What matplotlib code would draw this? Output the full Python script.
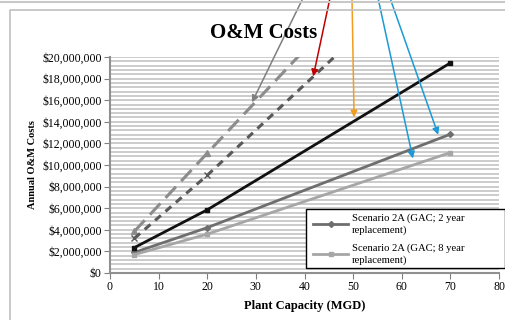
import matplotlib
matplotlib.use("Agg")
import matplotlib.pyplot as plt
from matplotlib.lines import Line2D
from matplotlib.patches import Rectangle
from matplotlib.ticker import MultipleLocator, FuncFormatter

capacity = [5, 20, 70]
scen_black = [2.35e6, 5.85e6, 19.45e6]
scen_2yr = [1.9e6, 4.2e6, 12.85e6]
scen_8yr = [1.7e6, 3.6e6, 11.15e6]
scen_short_dash = [3.2e6, 9.05e6, 30.0e6]
scen_long_dash = [3.85e6, 11.1e6, 35.0e6]

legend_labels = ["Scenario 2A (GAC; 2 year\nreplacement)",
                 "Scenario 2A (GAC; 8 year\nreplacement)"]

arrow_targets_x = [29.2, 41.8, 50.2, 62.3, 67.5]
arrow_targets_y = [15.8e6, 18.2e6, 14.4e6, 10.6e6, 12.8e6]
arrow_starts_px = [303, 330, 352, 378, 390]
arrow_colors = ["#7f7f7f", "#c00000", "#f39c1f", "#1a9ad6", "#1a9ad6"]

plt.rcParams['font.family'] = ['Liberation Serif', 'DejaVu Serif']

W, H = 506, 320
fig = plt.figure(figsize=(W / 100, H / 100), dpi=100)
fig.patch.set_facecolor("white")

# outer frame lines
fig.add_artist(Line2D([0, 1], [1 - 2 / H, 1 - 2 / H], transform=fig.transFigure,
                      color="#c8c8c8", lw=1.5))
fig.add_artist(Line2D([10 / W, 10 / W, 1.0], [0, 1 - 10 / H, 1 - 10 / H],
                      transform=fig.transFigure, color="#c0c0c0", lw=1.2))

ax = fig.add_axes([110 / W, 1 - 273 / H, (499 - 110) / W, (273 - 57) / H])
ax.set_xlim(0, 80)
ax.set_ylim(0, 20e6)

ax.yaxis.set_major_locator(MultipleLocator(2e6))
ax.yaxis.set_minor_locator(MultipleLocator(4e5))
ax.xaxis.set_major_locator(MultipleLocator(10))
ax.yaxis.set_major_formatter(FuncFormatter(lambda v, p: "${:,.0f}".format(v)))
ax.grid(which="both", axis="y", color="#c4c4c4", lw=1.2)
ax.set_axisbelow(True)
ax.tick_params(which="minor", left=False)
ax.tick_params(axis="both", labelsize=8.5, length=4, color="#808080", pad=2)
for s in ["top", "right"]:
    ax.spines[s].set_visible(False)
for s in ["left", "bottom"]:
    ax.spines[s].set_color("#909090")
    ax.spines[s].set_linewidth(1.5)

ax.plot(capacity, scen_long_dash, color="#8c8c8c", lw=2.2, dashes=(5, 2.5),
        marker="^", ms=4, zorder=3)
ax.plot(capacity, scen_short_dash, color="#595959", lw=2.2, dashes=(2.5, 2),
        marker="x", ms=4, zorder=3)
ax.plot(capacity, scen_black, color="#111111", lw=2, marker="s", ms=3.5, zorder=4)
l2, = ax.plot(capacity, scen_2yr, color="#6e6e6e", lw=2, marker="D", ms=3, zorder=3)
l8, = ax.plot(capacity, scen_8yr, color="#a6a6a6", lw=2, marker="s", ms=3, zorder=3)

# legend frame
fig.add_artist(Rectangle((306 / W, 1 - 268 / H), (505 - 306) / W, (268 - 209) / H,
                         transform=fig.transFigure, facecolor="white",
                         edgecolor="black", lw=1.0, zorder=7))
leg = ax.legend([l2, l8], legend_labels, loc="upper left",
                bbox_to_anchor=(311 / W, 1 - 211 / H), bbox_transform=fig.transFigure,
                fontsize=7.7, frameon=False, handlelength=3.3, handletextpad=0.3,
                borderpad=0.2, labelspacing=0.75, borderaxespad=0)
for t in leg.get_texts():
    t.set_linespacing(1.35)
leg.set_zorder(8)
fig.add_artist(leg)

fig.text(264 / W, 1 - 33 / H, "O&M Costs", fontsize=15, fontweight="bold",
         ha="center", va="center")
ax.set_xlabel("Plant Capacity (MGD)", fontsize=9, fontweight="bold", labelpad=5)
ax.set_ylabel("Annual O&M Costs", fontsize=7.5, fontweight="bold", labelpad=4)

for tx, ty, sx, c in zip(arrow_targets_x, arrow_targets_y, arrow_starts_px, arrow_colors):
    ax.annotate("", xy=(tx, ty), xycoords="data",
                xytext=(sx, H + 2), textcoords="figure pixels",
                arrowprops=dict(arrowstyle="-|>", color=c, lw=1.1,
                                mutation_scale=10, shrinkA=0, shrinkB=0),
                annotation_clip=False, zorder=6)

fig.savefig("out.png", dpi=100)
